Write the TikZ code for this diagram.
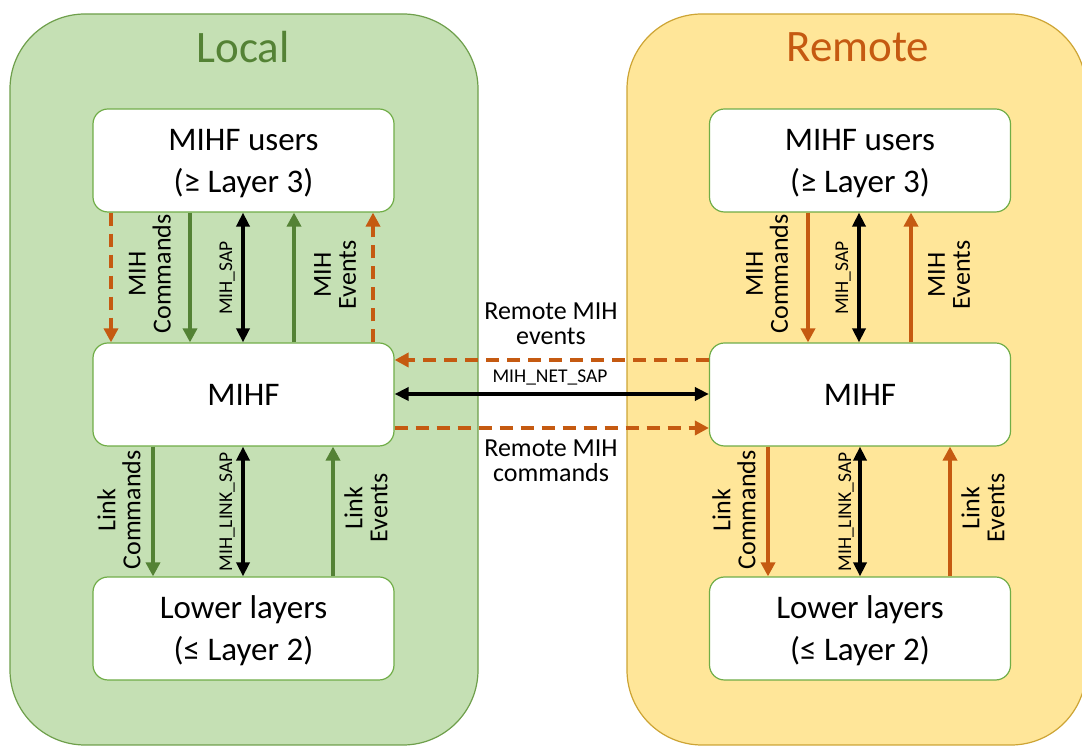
\documentclass[tikz,border=0pt]{standalone}
\usepackage{fontspec}
\setmainfont{Carlito}
\usetikzlibrary{arrows.meta}

\definecolor{localfill}{HTML}{C5E0B4}
\definecolor{localline}{HTML}{6E9F4B}
\definecolor{remotefill}{HTML}{FFE699}
\definecolor{remoteline}{HTML}{CDA434}
\definecolor{boxline}{HTML}{70AD47}
\definecolor{darkgreen}{HTML}{548235}
\definecolor{rust}{HTML}{C55A11}

\tikzset{
  panelL/.style={draw=localline, line width=0.6pt, fill=localfill, rounded corners=37.5pt},
  panelR/.style={draw=remoteline, line width=0.6pt, fill=remotefill, rounded corners=37.5pt},
  title/.style={font=\fontsize{22.5}{27}\selectfont, inner sep=0pt},
  layerbox/.style={draw=boxline, line width=0.6pt, fill=white, rounded corners=7.5pt,
    minimum width=150.5pt, minimum height=51.5pt, align=center, inner sep=0pt,
    font=\fontsize{16.5}{21}\selectfont},
  twolines/.style={text height=35pt},
  lab/.style={font=\fontsize{13}{12.5}\selectfont, align=center, inner sep=0pt},
  sap/.style={font=\fontsize{9.75}{12}\selectfont, inner sep=0pt},
  greenarrow/.style={draw=darkgreen, line width=2.2pt, -{Triangle[length=7pt,width=7pt]}},
  rustarrow/.style={draw=rust, line width=2.2pt, -{Triangle[length=7pt,width=7pt]}},
  rustdashed/.style={draw=rust, line width=2.2pt, dash pattern=on 6.5pt off 4pt,
    -{Triangle[length=7pt,width=7pt]}},
  saparrow/.style={draw=black, line width=2pt,
    {Triangle[length=7pt,width=6.5pt]}-{Triangle[length=7pt,width=6.5pt]}}
}

\begin{document}
\begin{tikzpicture}[x=0.5pt, y=-0.5pt]
\useasboundingbox (0,0) rectangle (1082,747);

% background panels
\begin{scope}
  \clip (0,0) rectangle (1082,747);
  \path[panelL] (10,14) rectangle (478,745);
  \path[panelR] (627,14) rectangle (1086,745);
\end{scope}

\node[title, text=darkgreen] (tl) at (243,47) {Local};
\node[title, text=rust] (tr) at (858,47) {Remote};

% layer boxes
\node[layerbox, twolines] (lu) at (243.5,160.5) {MIHF users\\(≥ Layer 3)};
\node[layerbox] (lm) at (243.5,394.5) {MIHF};
\node[layerbox, twolines] (ll) at (243.5,628.5) {Lower layers\\(≤ Layer 2)};
\node[layerbox, twolines] (ru) at (860,160.5) {MIHF users\\(≥ Layer 3)};
\node[layerbox] (rm) at (860,394.5) {MIHF};
\node[layerbox, twolines] (rl) at (860,628.5) {Lower layers\\(≤ Layer 2)};

% local: users <-> MIHF
\draw[rustdashed] (lu.south -| 111,0) -- (lm.north -| 111,0);
\draw[greenarrow] (lu.south -| 190,0) -- (lm.north -| 190,0);
\draw[saparrow]   (lu.south -| 243,0) -- (lm.north -| 243,0);
\draw[greenarrow] (lm.north -| 294,0) -- (lu.south -| 294,0);
\draw[rustdashed] (lm.north -| 373,0) -- (lu.south -| 373,0);
\node[lab, rotate=90] (lcmd) at (150,274) {MIH\\Commands};
\node[sap, rotate=90] (lsap) at (227,278) {MIH\_SAP};
\node[lab, rotate=90] (levt) at (335,275) {MIH\\Events};

% local: MIHF <-> lower layers
\draw[greenarrow] (lm.south -| 153,0) -- (ll.north -| 153,0);
\draw[saparrow]   (lm.south -| 243,0) -- (ll.north -| 243,0);
\draw[greenarrow] (ll.north -| 333,0) -- (lm.south -| 333,0);
\node[lab, rotate=90] (llcmd) at (119,510) {Link\\Commands};
\node[sap, rotate=90] (llsap) at (227,512) {MIH\_LINK\_SAP};
\node[lab, rotate=90] (llevt) at (366,508) {Link\\Events};

% remote: users <-> MIHF
\draw[rustarrow] (ru.south -| 808,0) -- (rm.north -| 808,0);
\draw[saparrow]  (ru.south -| 859,0) -- (rm.north -| 859,0);
\draw[rustarrow] (rm.north -| 911,0) -- (ru.south -| 911,0);
\node[lab, rotate=90] (rcmd) at (767,274) {MIH\\Commands};
\node[sap, rotate=90] (rsap) at (843,278) {MIH\_SAP};
\node[lab, rotate=90] (revt) at (949,275) {MIH\\Events};

% remote: MIHF <-> lower layers
\draw[rustarrow] (rm.south -| 768,0) -- (rl.north -| 768,0);
\draw[saparrow]  (rm.south -| 860,0) -- (rl.north -| 860,0);
\draw[rustarrow] (rl.north -| 950,0) -- (rm.south -| 950,0);
\node[lab, rotate=90] (rlcmd) at (734,510) {Link\\Commands};
\node[sap, rotate=90] (rlsap) at (846,512) {MIH\_LINK\_SAP};
\node[lab, rotate=90] (rlevt) at (983,508) {Link\\Events};

% local MIHF <-> remote MIHF
\draw[rustdashed] (rm.west |- 0,360) -- (lm.east |- 0,360);
\draw[saparrow]   (lm.east |- 0,394) -- (rm.west |- 0,394);
\draw[rustdashed] (lm.east |- 0,428) -- (rm.west |- 0,428);
\node[lab] (nevt) at (551,324) {Remote MIH\\events};
\node[sap] (nsap) at (550,377) {MIH\_NET\_SAP};
\node[lab] (ncmd) at (551,461) {Remote MIH\\commands};
\end{tikzpicture}
\end{document}
